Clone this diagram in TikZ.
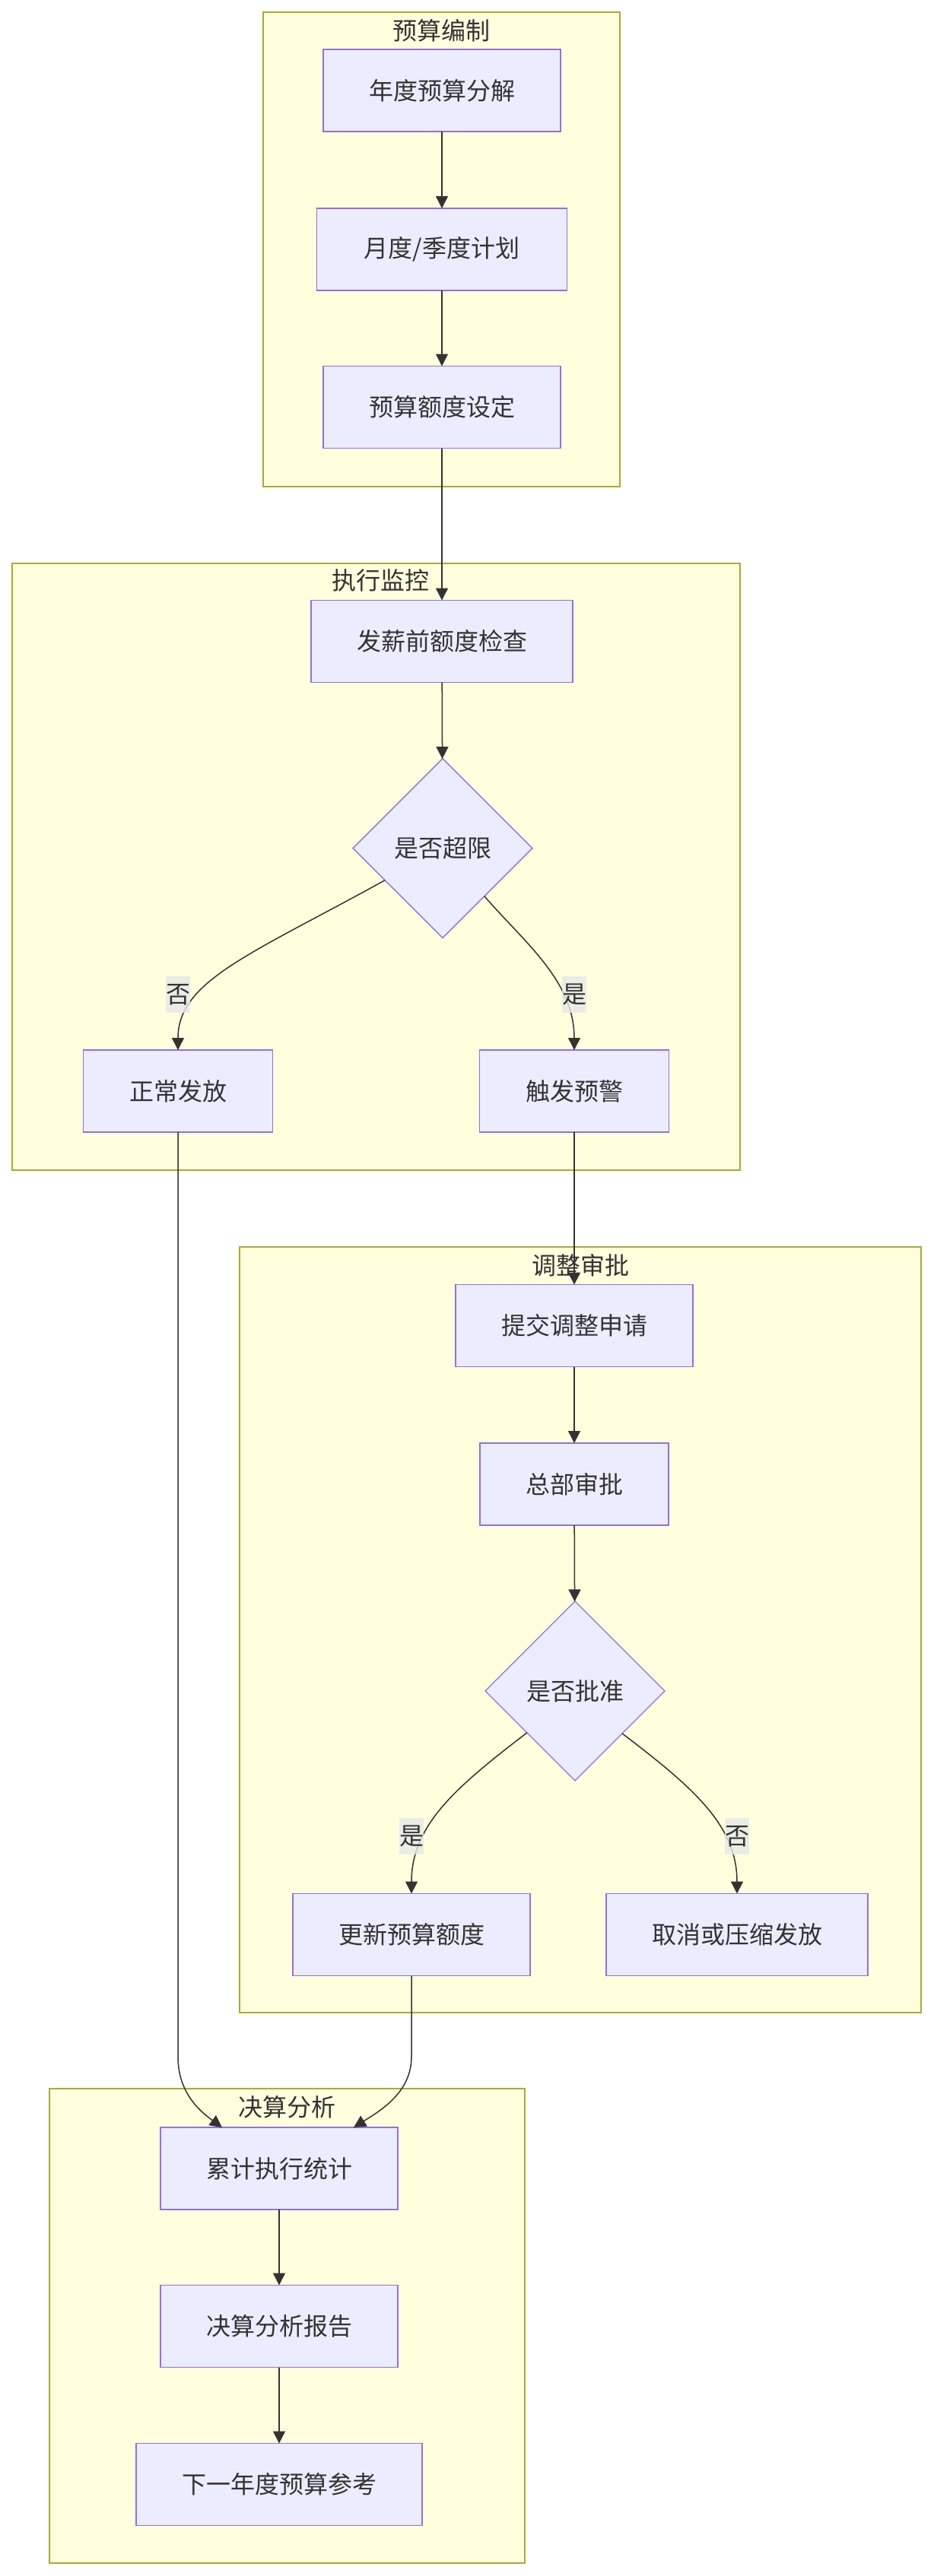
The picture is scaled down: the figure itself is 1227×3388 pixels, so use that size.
\documentclass[tikz,border=0pt]{standalone}
\usepackage{fontspec}
\setmainfont{Noto Sans CJK SC}
\usetikzlibrary{shapes.geometric,arrows.meta}
\definecolor{nodefill}{HTML}{ECECFF}
\definecolor{nodeline}{HTML}{9370DB}
\definecolor{clfill}{HTML}{FFFFDE}
\definecolor{clline}{HTML}{AAAA33}
\definecolor{edgecol}{HTML}{333333}
\definecolor{lblbg}{HTML}{E8E8E8}
\begin{document}
\begin{tikzpicture}[x=1pt,y=-1pt,
  box/.style={rectangle, draw=nodeline, fill=nodefill, line width=1.3pt, minimum height=108pt, inner sep=0pt, outer sep=0pt, font=\fontsize{32pt}{38pt}\selectfont, text=edgecol},
  dia/.style={diamond, aspect=1, draw=nodeline, fill=nodefill, line width=1.3pt, minimum width=236pt, minimum height=236pt, inner sep=0pt, outer sep=0pt, font=\fontsize{32pt}{38pt}\selectfont, text=edgecol},
  cluster/.style={draw=clline, fill=clfill, line width=1.5pt},
  ctitle/.style={inner sep=0pt, font=\fontsize{32pt}{38pt}\selectfont, text=edgecol},
  arr/.style={draw=edgecol, line width=1.5pt, -{Triangle[length=16pt,width=16pt]}},
  elbl/.style={fill=lblbg, fill opacity=0.8, text opacity=1, minimum width=32pt, minimum height=48pt, inner sep=0pt, font=\fontsize{32pt}{38pt}\selectfont, text=edgecol}
]
\useasboundingbox[fill=white] (0,0) rectangle (1227,3388);

% clusters
\draw[cluster] (346,16) rectangle (815,640);
\draw[cluster] (16,741) rectangle (973,1539);
\draw[cluster] (315,1640) rectangle (1211,2647);
\draw[cluster] (65,2747) rectangle (690,3371);

\node[ctitle] (t1) at (580,40) {预算编制};
\node[ctitle] (t2) at (500,763) {执行监控};
\node[ctitle] (t3) at (763,1664) {调整审批};
\node[ctitle] (t4) at (377,2771) {决算分析};

% nodes
\node[box, minimum width=312pt] (n1) at (581,119) {年度预算分解};
\node[box, minimum width=329pt] (n2) at (581,328) {月度/季度计划};
\node[box, minimum width=312pt] (n3) at (581,535.5) {预算额度设定};
\node[box, minimum width=344pt] (n4) at (581,843.5) {发薪前额度检查};
\node[dia] (d1) at (582,1115.6) {是否超限};
\node[box, minimum width=249pt] (n5) at (234,1435) {正常发放};
\node[box, minimum width=249pt] (n6) at (755,1435) {触发预警};
\node[box, minimum width=312pt] (n7) at (755,1743.6) {提交调整申请};
\node[box, minimum width=248pt] (n8) at (755,1952) {总部审批};
\node[dia] (d2) at (756,2224) {是否批准};
\node[box, minimum width=312pt] (n9) at (541,2544.5) {更新预算额度};
\node[box, minimum width=344pt] (n10) at (969,2544.5) {取消或压缩发放};
\node[box, minimum width=312pt] (n11) at (367,2852) {累计执行统计};
\node[box, minimum width=312pt] (n12) at (367,3059.5) {决算分析报告};
\node[box, minimum width=376pt] (n13) at (367,3267.5) {下一年度预算参考};

% edges
\draw[arr] (n1) -- (n2);
\draw[arr] (n2) -- (n3);
\draw[arr] (n3) -- (n4);
\draw[arr] (n4) -- (d1);
\draw[arr] (d1.209) .. controls (330,1255) and (234,1290) .. (n5.north);
\draw[arr] (d1.311) .. controls (690,1240) and (755,1290) .. (n6.north);
\draw[arr] (n6) -- (n7);
\draw[arr] (n7) -- (n8);
\draw[arr] (n8) -- (d2);
\draw[arr] (d2.221) .. controls (600,2350) and (541,2400) .. (n9.north);
\draw[arr] (d2.318) .. controls (910,2350) and (969,2400) .. (n10.north);

\coordinate (bl) at (234,2705);
\coordinate (br) at (541,2705);
\draw[arr] (n5.south) -- (bl) .. controls (234,2752) and (262,2776) .. ([xshift=-75pt]n11.north);
\draw[arr] (n9.south) -- (br) .. controls (541,2752) and (500,2776) .. ([xshift=98pt]n11.north);
\draw[arr] (n11) -- (n12);
\draw[arr] (n12) -- (n13);

% edge labels
\node[elbl] (l1) at (234,1308) {否};
\node[elbl] (l2) at (755,1308) {是};
\node[elbl] (l3) at (541,2415) {是};
\node[elbl] (l4) at (969,2415) {否};
\end{tikzpicture}
\end{document}
